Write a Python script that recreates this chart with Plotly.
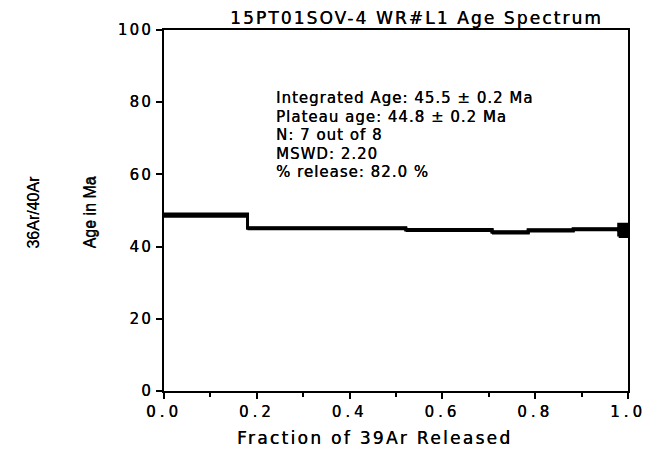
import plotly.graph_objects as go

# Step boundaries (cumulative fraction of 39Ar released)
frac_edges = [0.0, 0.18, 0.521, 0.707, 0.785, 0.882, 0.98, 1.0]
ages = [48.7, 45.1, 44.6, 43.95, 44.5, 44.8, 44.5]
errors = [0.3, 0.15, 0.15, 0.15, 0.15, 0.15, 1.7]

title_text = "15PT01SOV-4 WR#L1 Age Spectrum"
info_lines = [
    "Integrated Age: 45.5 ± 0.2 Ma",
    "Plateau age: 44.8 ± 0.2 Ma",
    "N: 7 out of 8",
    "MSWD: 2.20",
    "% release: 82.0 %",
]
x_ticks = [0.0, 0.2, 0.4, 0.6, 0.8, 1.0]
y_ticks = [0, 20, 40, 60, 80, 100]
x_title = "Fraction of 39Ar Released"
y_title = "Age in Ma"
y_title2 = "36Ar/40Ar"

FONT = "DejaVu Sans, Liberation Sans, Arial, sans-serif"
FONT_R = "Liberation Sans, Arial, sans-serif"
SHADOW = "0.3px 0px 0px black"

W, H = 658, 451
ML, MR, MT, MB = 164, 28, 30, 60
PH = H - MT - MB
PW = W - ML - MR


def spaced(s, px):
    return f'<span style="letter-spacing:{px}px">{s}</span>'


def py(p):  # pixel row -> paper y
    return 1 - (p - MT) / PH


def px_(p):  # pixel column -> paper x
    return (p - ML) / PW


fig = go.Figure()

# error boxes for each step
for i, (a, e) in enumerate(zip(ages, errors)):
    x0, x1 = frac_edges[i], frac_edges[i + 1]
    fig.add_trace(go.Scatter(
        x=[x0, x1, x1, x0, x0],
        y=[a - e, a - e, a + e, a + e, a - e],
        mode="lines", fill="toself", fillcolor="black",
        line=dict(color="black", width=3), hoverinfo="skip",
        showlegend=False,
    ))

# connecting step line
step_x = []
step_y = []
for i, a in enumerate(ages):
    step_x += [frac_edges[i], frac_edges[i + 1]]
    step_y += [a, a]
fig.add_trace(go.Scatter(x=step_x, y=step_y, mode="lines",
                         line=dict(color="black", width=3),
                         showlegend=False, hoverinfo="skip"))

tickfont = dict(family=FONT, size=15, shadow=SHADOW)
fig.update_layout(
    width=W, height=H,
    margin=dict(l=ML, r=MR, t=MT, b=MB),
    paper_bgcolor="white", plot_bgcolor="white",
    font=dict(family=FONT, size=15, color="black"),
    showlegend=False,
    xaxis=dict(range=[0, 1], tickvals=x_ticks,
               ticktext=[spaced(f"{v:.1f}", 4) for v in x_ticks],
               ticks="outside", ticklen=6, tickwidth=2, tickcolor="black",
               tickfont=tickfont,
               minor=dict(dtick=0.1, tick0=0, ticks="outside", ticklen=4,
                          tickwidth=2, tickcolor="black"),
               showline=True, linecolor="black", linewidth=2, mirror=True,
               showgrid=False, zeroline=False),
    yaxis=dict(range=[0, 100], tickvals=y_ticks,
               ticktext=[spaced(str(v), 2.2) for v in y_ticks],
               tickfont=tickfont,
               ticks="outside", ticklen=6, tickwidth=2, tickcolor="black",
               showline=True, linecolor="black", linewidth=2, mirror=True,
               showgrid=False, zeroline=False),
)

# title
fig.add_annotation(text=spaced(title_text, 2.1), xref="paper", yref="paper",
                   x=px_(418), y=py(18), xanchor="center", yanchor="middle",
                   showarrow=False,
                   font=dict(family=FONT, size=17, shadow=SHADOW))
# x axis title
fig.add_annotation(text=spaced(x_title, 2.3), xref="paper", yref="paper",
                   x=px_(375), y=py(438), xanchor="center", yanchor="middle",
                   showarrow=False,
                   font=dict(family=FONT, size=17, shadow=SHADOW))
# y axis titles
fig.add_annotation(text=y_title, xref="paper", yref="paper",
                   x=px_(90), y=py(212), xanchor="center", yanchor="middle",
                   textangle=-90, showarrow=False,
                   font=dict(family=FONT_R, size=16,
                             shadow="0px 0.4px 0px black"))
fig.add_annotation(text=y_title2, xref="paper", yref="paper",
                   x=px_(33), y=py(212), xanchor="center", yanchor="middle",
                   textangle=-90, showarrow=False,
                   font=dict(family=FONT_R, size=16,
                             shadow="0px 0.4px 0px black"))
# info block
for k, line in enumerate(info_lines):
    fig.add_annotation(text=spaced(line, 1.0), xref="paper", yref="paper",
                       x=px_(274), y=py(98 + 18.6 * k),
                       xanchor="left", yanchor="middle",
                       align="left", showarrow=False,
                       font=dict(family=FONT, size=15, shadow=SHADOW))

fig.write_html("out.html")
